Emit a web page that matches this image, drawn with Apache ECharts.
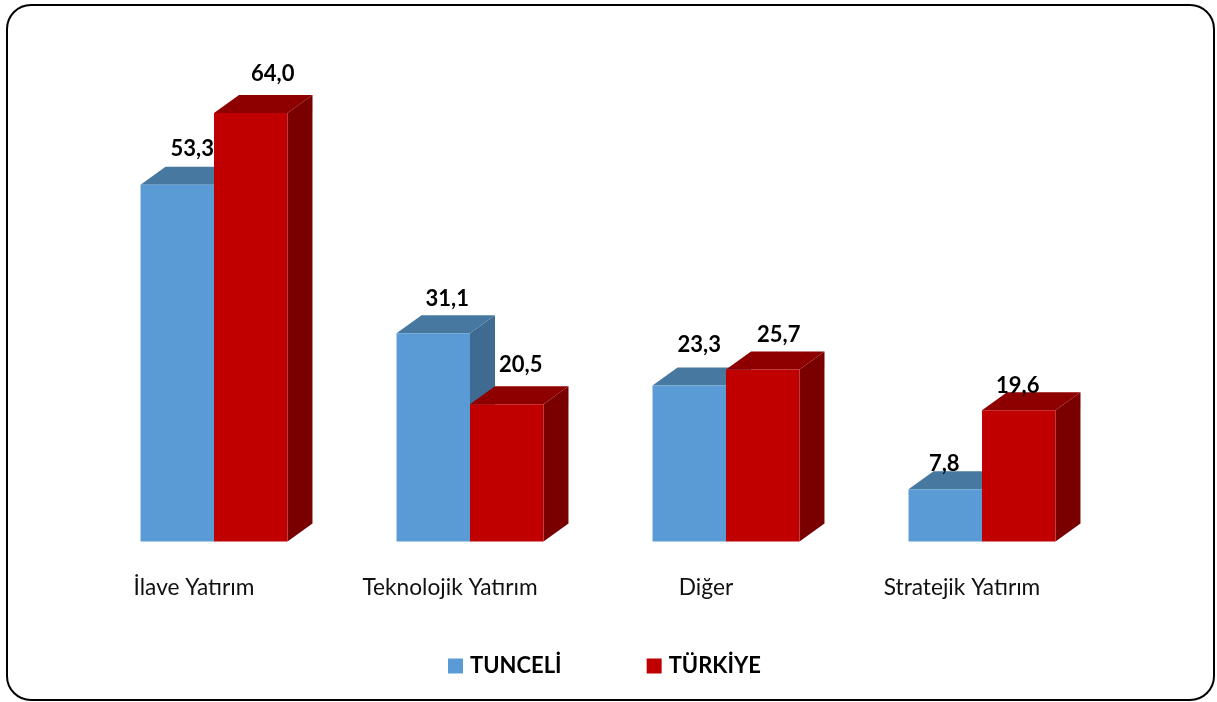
<!DOCTYPE html>
<html>
<head>
<meta charset="utf-8">
<title>Yatırım türleri</title>
<script src="https://cdn.jsdelivr.net/npm/echarts@6/dist/echarts.min.js"></script>
<style>
  html, body { margin: 0; padding: 0; background: #fff; }
  #chart { width: 1217px; height: 702px; }
</style>
</head>
<body>
<div id="chart"></div>
<script>
const categories = ['İlave Yatırım', 'Teknolojik Yatırım', 'Diğer', 'Stratejik Yatırım']
const tunceli = [53.3, 31.1, 23.3, 7.8]
const turkiye = [64.0, 20.5, 25.7, 19.6]

// elle ayarlanan etiket kaymalari (x, y)
const tunceliLabelShift = [[15, -36], [14, -34], [10, -41], [-1, -25]]
const turkiyeLabelShift = [[22, -39], [14, -39], [16, -35], [-1, -24]]

const FONT = 'Lato, "Open Sans", sans-serif'
const DEPTH_X = 25
const DEPTH_Y = 18
const BAR_RATIO = 0.287

function barRenderer(side, colors, shifts) {
  return function (params, api) {
    const i = api.value(0)
    const value = api.value(1)
    const top = api.coord([i, value])
    const base = api.coord([i, 0])
    const w = api.size([1, 0])[0] * BAR_RATIO
    const x0 = side < 0 ? top[0] - w : top[0]
    const x1 = x0 + w
    const y0 = top[1]
    const y1 = base[1]
    return {
      type: 'group',
      children: [
        {
          type: 'polygon',
          shape: { points: [[x1, y0], [x1 + DEPTH_X, y0 - DEPTH_Y], [x1 + DEPTH_X, y1 - DEPTH_Y], [x1, y1]] },
          style: { fill: colors.side }
        },
        {
          type: 'polygon',
          shape: { points: [[x0, y0], [x0 + DEPTH_X, y0 - DEPTH_Y], [x1 + DEPTH_X, y0 - DEPTH_Y], [x1, y0]] },
          style: { fill: colors.top }
        },
        {
          type: 'rect',
          shape: { x: x0, y: y0, width: w, height: y1 - y0 },
          style: { fill: colors.front }
        },
        {
          type: 'text',
          z2: 100,
          x: (x0 + x1) / 2 + shifts[i][0],
          y: y0 + shifts[i][1],
          style: {
            text: value.toFixed(1).replace('.', ','),
            fill: '#000',
            font: 'bold 22px ' + FONT,
            align: 'center',
            verticalAlign: 'middle'
          }
        }
      ]
    }
  }
}

const myChart = echarts.init(document.getElementById('chart'))

myChart.setOption({
  animation: false,
  backgroundColor: '#fff',
  graphic: [
    {
      type: 'rect',
      silent: true,
      z: -1,
      shape: { x: 7, y: 5, width: 1207, height: 695, r: 24 },
      style: { fill: '#fff', stroke: '#000', lineWidth: 2 }
    }
  ],
  legend: {
    left: 448,
    top: 655,
    padding: 0,
    itemWidth: 15,
    itemHeight: 15,
    itemGap: 85,
    icon: 'rect',
    textStyle: { color: '#000', fontSize: 22, fontWeight: 'bold', fontFamily: FONT, padding: [2, 0, 0, 2] },
    data: ['TUNCELİ', 'TÜRKİYE']
  },
  grid: { left: 86, top: 72.9, width: 1024, height: 468.6 },
  xAxis: {
    type: 'category',
    data: categories,
    axisLine: { show: false },
    axisTick: { show: false },
    axisLabel: {
      interval: 0,
      margin: 35,
      color: '#111',
      fontSize: 22.7,
      fontFamily: FONT,
      padding: [0, 40, 0, 0]
    }
  },
  yAxis: { type: 'value', min: 0, max: 70, show: false },
  series: [
    {
      name: 'TUNCELİ',
      type: 'custom',
      clip: false,
      itemStyle: { color: '#5B9BD5' },
      encode: { x: 0, y: 1 },
      data: tunceli.map((v, i) => [i, v]),
      renderItem: barRenderer(-1, { front: '#5B9BD5', top: '#47789F', side: '#3F6A92' }, tunceliLabelShift)
    },
    {
      name: 'TÜRKİYE',
      type: 'custom',
      clip: false,
      itemStyle: { color: '#C00000' },
      encode: { x: 0, y: 1 },
      data: turkiye.map((v, i) => [i, v]),
      renderItem: barRenderer(1, { front: '#C00000', top: '#8E0000', side: '#7A0000' }, turkiyeLabelShift)
    }
  ]
})
</script>
</body>
</html>
